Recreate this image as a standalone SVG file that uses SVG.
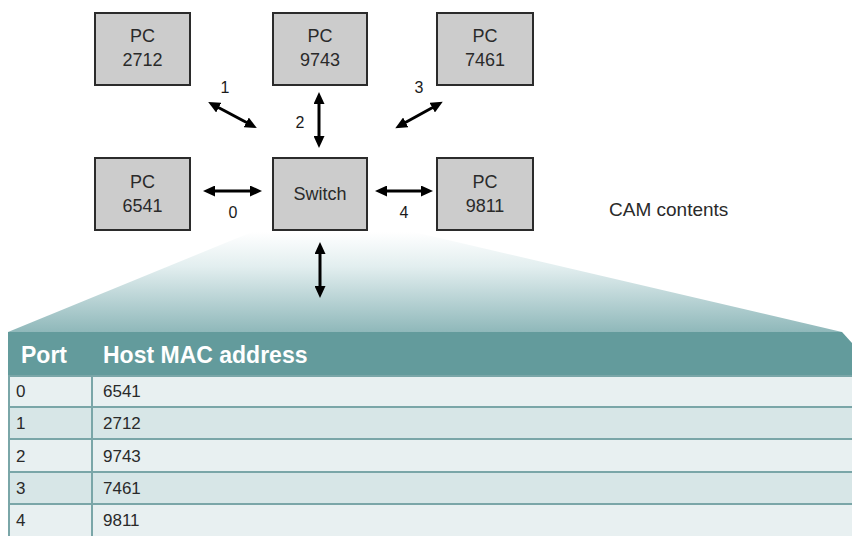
<svg xmlns="http://www.w3.org/2000/svg" width="852" height="536" viewBox="0 0 852 536">
<defs>
<linearGradient id="fan" x1="0" y1="0" x2="0" y2="1">
<stop offset="0" stop-color="#ffffff"/>
<stop offset="0.35" stop-color="#e2eeef"/>
<stop offset="1" stop-color="#8fb8ba"/>
</linearGradient>
<marker id="ah" viewBox="0 0 12 11" markerWidth="12" markerHeight="11" refX="2" refY="5.5" orient="auto-start-reverse" markerUnits="userSpaceOnUse">
<path d="M0,0 L12,5.5 L0,11 z" fill="#000"/>
</marker>
<style>
.box{fill:#cccccc;stroke:#2b2b2b;stroke-width:2}
.t{font-family:"Liberation Sans",Arial,sans-serif;font-size:18px;fill:#2a2a2a;text-anchor:middle}
.lbl{font-family:"Liberation Sans",Arial,sans-serif;font-size:16px;fill:#1a1a1a;text-anchor:middle}
.conn{stroke:#000;stroke-width:3;fill:none;marker-start:url(#ah);marker-end:url(#ah)}
.hd{font-family:"Liberation Sans",Arial,sans-serif;font-size:23px;font-weight:bold;fill:#ffffff}
.cell{font-family:"Liberation Sans",Arial,sans-serif;font-size:17px;fill:#2a2a2a}
.rl{fill:#e8f0f1}
.rd{fill:#d7e6e7}
.grid{stroke:#7aa6a8;stroke-width:2}
</style>
</defs>
<rect width="852" height="536" fill="#ffffff"/>
<g id="fan-area">
<polygon points="252,232 414,232 842,332 8,332" fill="url(#fan)"/>
</g>
<g id="pc2712"><rect class="box" x="95" y="13" width="95" height="72"/><text class="t" x="142.5" y="42">PC</text><text class="t" x="142.5" y="66">2712</text></g>
<g id="pc9743"><rect class="box" x="273" y="13" width="94" height="72"/><text class="t" x="320" y="42">PC</text><text class="t" x="320" y="66">9743</text></g>
<g id="pc7461"><rect class="box" x="437" y="13" width="96" height="72"/><text class="t" x="485" y="42">PC</text><text class="t" x="485" y="66">7461</text></g>
<g id="pc6541"><rect class="box" x="95" y="158" width="95" height="72"/><text class="t" x="142.5" y="188">PC</text><text class="t" x="142.5" y="212">6541</text></g>
<g id="switch"><rect class="box" x="273" y="158" width="94" height="72"/><text class="t" x="320" y="200">Switch</text></g>
<g id="pc9811"><rect class="box" x="437" y="158" width="96" height="72"/><text class="t" x="485" y="188">PC</text><text class="t" x="485" y="212">9811</text></g>
<g id="connectors">
<line class="conn" x1="217" y1="106.7" x2="248" y2="123.3"/>
<line class="conn" x1="319" y1="102" x2="319" y2="138"/>
<line class="conn" x1="434" y1="106.7" x2="404" y2="123.3"/>
<line class="conn" x1="213" y1="191" x2="252" y2="191"/>
<line class="conn" x1="385" y1="191" x2="423" y2="191"/>
<line class="conn" x1="320" y1="252" x2="320" y2="288"/>
<text class="lbl" x="225" y="93">1</text>
<text class="lbl" x="300" y="128">2</text>
<text class="lbl" x="419" y="93">3</text>
<text class="lbl" x="233" y="218">0</text>
<text class="lbl" x="404" y="218">4</text>
</g>
<g id="cam-label"><text x="609" y="216" font-family="Liberation Sans, Arial, sans-serif" font-size="19" fill="#2a2a2a">CAM contents</text></g>
<g id="cam-table">
<polygon points="8,332 842,332 852,343 852,376 8,376" fill="#639b9c"/>
<rect class="rl" x="8" y="376" width="844" height="31"/>
<rect class="rd" x="8" y="407" width="844" height="32"/>
<rect class="rl" x="8" y="439" width="844" height="33"/>
<rect class="rd" x="8" y="472" width="844" height="32"/>
<rect class="rl" x="8" y="504" width="844" height="32"/>
<line class="grid" x1="8" y1="376" x2="852" y2="376"/>
<line class="grid" x1="8" y1="407" x2="852" y2="407"/>
<line class="grid" x1="8" y1="439" x2="852" y2="439"/>
<line class="grid" x1="8" y1="472" x2="852" y2="472"/>
<line class="grid" x1="8" y1="504" x2="852" y2="504"/>
<line class="grid" x1="9" y1="376" x2="9" y2="536"/>
<line class="grid" x1="92" y1="376" x2="92" y2="536"/>
<text class="hd" x="21" y="363">Port</text>
<text class="hd" x="103" y="363">Host MAC address</text>
<text class="cell" x="16" y="397">0</text><text class="cell" x="103" y="397">6541</text>
<text class="cell" x="16" y="429">1</text><text class="cell" x="103" y="429">2712</text>
<text class="cell" x="16" y="462">2</text><text class="cell" x="103" y="462">9743</text>
<text class="cell" x="16" y="494">3</text><text class="cell" x="103" y="494">7461</text>
<text class="cell" x="16" y="526">4</text><text class="cell" x="103" y="526">9811</text>
</g>
</svg>
